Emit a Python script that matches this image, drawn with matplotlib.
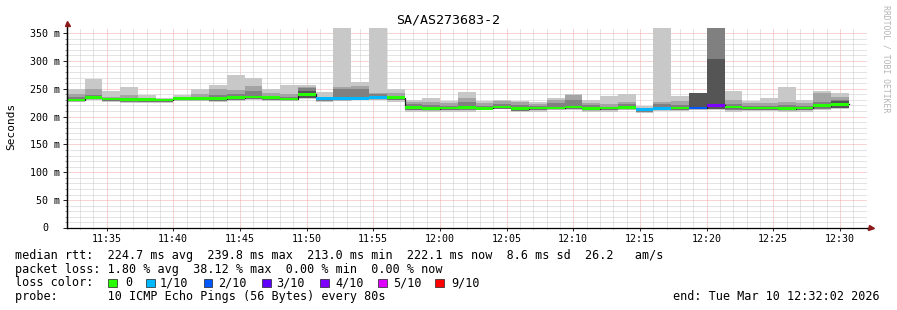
import datetime as dt
import numpy as np
import matplotlib
matplotlib.use("Agg")
import matplotlib.pyplot as plt
import matplotlib.dates as mdates
from matplotlib.ticker import MultipleLocator, FuncFormatter
from matplotlib.patches import Rectangle
from matplotlib.lines import Line2D

# ---------------- data ----------------
title = "SA/AS273683-2"
bin_start = dt.datetime(2026, 3, 10, 11, 32, 1)
step_s = 80
view_start = dt.datetime(2026, 3, 10, 11, 32, 2)
view_end = dt.datetime(2026, 3, 10, 12, 32, 2)

# median rtt per bin (ms)
median = [230, 234, 231.5, 231, 230.5, 230, 232, 232, 232, 234, 235, 234, 231.5, 239.8,
          233, 232, 233, 234, 234, 216, 214.5, 215.5, 216.5, 215, 217, 214, 215.5, 215.5,
          217, 214, 215.5, 216, 213.0, 215, 215.5, 215.5, 220, 217, 215.5, 215.5, 214,
          215.5, 219.5, 222.1]
# loss per bin, in tenths
loss = [0, 0, 0, 0, 0, 0, 0, 0, 0, 0, 0, 0, 0, 0,
        1, 1, 1, 1, 0, 0, 0, 0, 0, 0, 0, 0, 0, 0,
        0, 0, 0, 0, 1, 1, 0, 2, 4, 0, 0, 0, 0,
        0, 0, 0]
# smoke layers (ms)
smoke_max = [249, 268, 246, 253, 239, 233, 239, 249, 257, 275, 270, 249, 257, 256,
             244, 365, 262, 365, 249, 230, 233, 228, 244, 228, 230, 228, 226, 233,
             240, 230, 237, 240, 219, 365, 237, 243, 365, 246, 228, 233, 253,
             230, 246, 242]
smoke_mid = [240, 249, 236, 238, 234, 232, 235, 240, 249, 247, 254, 242, 240, 253,
             236, 253, 255, 243, 242, 227, 226, 224, 233, 224, 228, 226, 222, 230,
             238, 225, 222, 226, 216, 226, 228, 243, 365, 230, 224, 225, 226,
             224, 242, 235]
smoke_dark = [236, 239, 233, 234, 232, 231, 233, 234, 239, 241, 246, 236, 235, 251,
              234, 249, 249, 240, 237, 222, 220, 219, 227, 219, 222, 220, 219, 224,
              230, 220, 218, 222, 214, 222, 220, 243, 365, 222, 219, 219, 220,
              219, 226, 230]
smoke_darkest = [0, 0, 0, 0, 0, 0, 0, 0, 0, 0, 0, 0, 0, 246,
                 0, 0, 0, 0, 0, 0, 0, 0, 0, 0, 0, 0, 0, 0,
                 0, 0, 0, 0, 0, 0, 0, 243, 304, 0, 0, 0, 0,
                 0, 0, 228]
smoke_min = [226, 229, 226, 225, 225, 225, 228, 228, 226, 228, 229, 228, 228, 231,
             226, 228, 229, 229, 227, 209, 209, 209, 209, 211, 213, 208, 208, 211,
             212, 209, 208, 211, 207, 210, 210, 211, 212, 209, 210, 210, 209,
             209, 212, 213]
smoke_low = [228, 231, 228, 227, 227, 227, 229, 229, 228, 230, 231, 230, 229, 233,
             228, 229, 230, 231, 229, 212, 211, 211, 212, 213, 214, 210, 211, 213,
             214, 211, 211, 213, 209, 212, 212, 213, 214, 212, 212, 212, 211,
             211, 214, 215]

loss_labels = ["0", "1/10", "2/10", "3/10", "4/10", "5/10", "9/10"]
loss_values = [0, 1, 2, 3, 4, 5, 9]
loss_colors = ["#26ff00", "#00b8ff", "#0059ff", "#5e00ff", "#7e00ff", "#dd00ff", "#ff0000"]

line_median = "median rtt:  224.7 ms avg  239.8 ms max  213.0 ms min  222.1 ms now  8.6 ms sd  26.2   am/s"
line_loss = "packet loss: 1.80 % avg  38.12 % max  0.00 % min  0.00 % now"
line_color = "loss color:"
line_probe = "probe:       10 ICMP Echo Pings (56 Bytes) every 80s"
line_end = "end: Tue Mar 10 12:32:02 2026"
y_label = "Seconds"
watermark = "RRDTOOL / TOBI OETIKER"

# ---------------- figure ----------------
W, H = 897, 310
MONO = "DejaVu Sans Mono"
plt.rcParams["font.family"] = MONO

fig = plt.figure(figsize=(W / 100, H / 100), dpi=100, facecolor="white")


def fx(x):
    return x / W


def fy(y):
    return 1 - y / H


ax = fig.add_axes([67 / W, (H - 228) / H, 800 / W, 200 / H])
ax.set_facecolor("white")

n = len(median)
times = [bin_start + dt.timedelta(seconds=step_s * i) for i in range(n)]
xnum = mdates.date2num(times)
width = step_s / 86400.0

med = np.array(median, float)
smax = np.array(smoke_max, float)
smid = np.array(smoke_mid, float)
sdark = np.array(smoke_dark, float)
sdst = np.array(smoke_darkest, float)
smin = np.array(smoke_min, float)
slow = np.array(smoke_low, float)

kw = dict(width=width, align="edge", linewidth=0, antialiased=False)
ax.bar(xnum, smax - smin, bottom=smin, color="#c8c8c8", zorder=2, **kw)
ax.bar(xnum, smid - slow, bottom=slow, color="#a4a4a4", zorder=3, **kw)
ax.bar(xnum, sdark - slow, bottom=slow, color="#808080", zorder=4, **kw)
has_dst = sdst > 0
ax.bar(xnum[has_dst], (sdst - slow)[has_dst], bottom=slow[has_dst], color="#555555", zorder=5, **kw)

# median line
xe = np.append(xnum, xnum[-1] + width)
ax.step(xe, np.append(med, med[-1]), where="post", color="#202020", lw=0.9, zorder=6)

# loss-coloured median band
half = 2.4
lcol = [loss_colors[loss_values.index(l)] for l in loss]
ax.bar(xnum, np.full(n, 2 * half), bottom=med - half, color=lcol, zorder=7, **kw)

ax.set_xlim(mdates.date2num(view_start), mdates.date2num(view_end))
ax.set_ylim(0, 359)

ax.yaxis.set_major_locator(MultipleLocator(50))
ax.yaxis.set_minor_locator(MultipleLocator(10))
ax.yaxis.set_major_formatter(FuncFormatter(lambda v, p: "" if v == 0 else f"{int(round(v))} m"))
ax.xaxis.set_major_locator(mdates.MinuteLocator(byminute=range(0, 60, 5)))
ax.xaxis.set_minor_locator(mdates.MinuteLocator())
ax.xaxis.set_major_formatter(mdates.DateFormatter("%H:%M"))

ax.set_axisbelow(True)
ax.grid(True, which="minor", color="#cacaca", linestyle=(0, (1, 1)), linewidth=0.72)
ax.grid(True, which="major", color="#f4a6a6", linestyle=(0, (1, 1)), linewidth=0.72)

for s in ("top", "right"):
    ax.spines[s].set_visible(False)
for s in ("left", "bottom"):
    ax.spines[s].set_color("black")
    ax.spines[s].set_linewidth(0.9)
    ax.spines[s].set_zorder(10)

ax.tick_params(axis="y", which="major", direction="out", length=3, width=0.6,
               pad=2.2, labelsize=7.2, colors="black")
ax.tick_params(axis="y", which="minor", direction="out", length=1.2, width=0.45, colors="#555555")
ax.tick_params(axis="x", which="major", direction="out", length=2, width=0.6,
               pad=2.5, labelsize=7.2, colors="black")
ax.tick_params(axis="x", which="minor", direction="out", length=1, width=0.45, colors="#555555")
for lab in ax.get_xticklabels() + ax.get_yticklabels():
    lab.set_family(MONO)

# zero label
fig.text(fx(48), fy(228), "0", ha="right", va="center", fontsize=7.2, family=MONO)

# axis extensions with arrows
fig.add_artist(Line2D([fx(67), fx(67)], [fy(228), fy(24)], color="black", lw=0.9))
fig.add_artist(Line2D([fx(67)], [fy(23)], marker="^", markersize=3.6, color="#8b1a1a", lw=0))
fig.add_artist(Line2D([fx(867), fx(870)], [fy(228), fy(228)], color="black", lw=0.9))
fig.add_artist(Line2D([fx(871)], [fy(228)], marker=">", markersize=3.6, color="#8b1a1a", lw=0))

# title, labels
fig.text(fx(448), fy(20), title, ha="center", va="center", fontsize=9.6, family=MONO)
fig.text(fx(11), fy(126.5), y_label, ha="center", va="center", rotation=90, fontsize=8, family=MONO)
fig.text(fx(886), fy(59), watermark, ha="center", va="center", rotation=270, fontsize=5.9,
         color="#b4b4b4", family=MONO)

# legend
LFS = 8.5
fig.text(fx(15), fy(259), line_median, ha="left", va="baseline", fontsize=LFS, family=MONO)
fig.text(fx(15), fy(272.5), line_loss, ha="left", va="baseline", fontsize=LFS, family=MONO)
fig.text(fx(15), fy(286.5), line_color, ha="left", va="baseline", fontsize=LFS, family=MONO)
fig.text(fx(15), fy(300), line_probe, ha="left", va="baseline", fontsize=LFS, family=MONO)
fig.text(fx(880), fy(300), line_end, ha="right", va="baseline", fontsize=LFS, family=MONO)

box_x = [108, 146, 203.5, 262, 320, 378, 435]
lab_x = [125, 160, 218, 276.5, 335, 393, 451]
for bx, tx, lab, col in zip(box_x, lab_x, loss_labels, loss_colors):
    fig.add_artist(Rectangle((fx(bx), fy(287)), 8.5 / W, 8.5 / H, transform=fig.transFigure,
                             facecolor=col, edgecolor="#202020", linewidth=0.5))
    fig.text(fx(tx), fy(286.5), lab, ha="left", va="baseline", fontsize=LFS, family=MONO)

fig.savefig("out.png", dpi=100, facecolor="white")
